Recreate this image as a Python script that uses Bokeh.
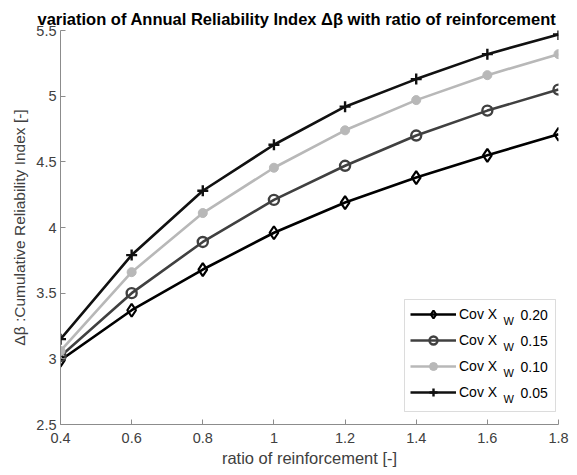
from bokeh.plotting import figure
from bokeh.models import Legend, LegendItem, Range1d, FixedTicker, Label, Title, BoxAnnotation
from bokeh.embed import file_html
from bokeh.resources import INLINE

ratio = [0.4, 0.6, 0.8, 1.0, 1.2, 1.4, 1.6, 1.8]
cov_020 = [2.99, 3.37, 3.68, 3.96, 4.19, 4.38, 4.55, 4.71]
cov_015 = [3.02, 3.50, 3.89, 4.21, 4.47, 4.70, 4.89, 5.05]
cov_010 = [3.06, 3.66, 4.11, 4.455, 4.74, 4.97, 5.16, 5.32]
cov_005 = [3.15, 3.79, 4.28, 4.63, 4.92, 5.13, 5.32, 5.47]
cov_values = ["0.20", "0.15", "0.10", "0.05"]
x_ticks = [0.4, 0.6, 0.8, 1.0, 1.2, 1.4, 1.6, 1.8]
y_ticks = [2.5, 3.0, 3.5, 4.0, 4.5, 5.0, 5.5]
title_text = "variation of Annual Reliability Index \u0394\u03b2 with ratio of reinforcement"
xlabel_text = "ratio of reinforcement [-]"
ylabel_text = "\u0394\u03b2 :Cumulative Reliability Index [-]"

FONT = "Liberation Sans"

p = figure(width=569, height=467, output_backend="svg", toolbar_location=None,
           x_range=Range1d(0.4, 1.8), y_range=Range1d(2.5, 5.5),
           min_border_left=60, min_border_right=11, min_border_top=30, min_border_bottom=42)
p.title.text = title_text
p.title.text_font = FONT
p.title.text_font_size = "16.5px"
p.title.text_font_style = "bold"
p.title.align = "left"
p.title.offset = -23
p.title.standoff = 5
p.title.text_color = "#000000"
p.outline_line_color = None
p.xgrid.visible = False
p.ygrid.visible = False

for ax in (p.xaxis[0], p.yaxis[0]):
    ax.axis_line_color = "#8c8c8c"
    ax.major_tick_line_color = "#8c8c8c"
    ax.major_tick_in = 5
    ax.major_tick_out = 0
    ax.minor_tick_line_color = None
    ax.major_label_text_font = FONT
    ax.major_label_text_font_size = "14.5px"
    ax.major_label_text_color = "#404040"

p.xaxis.ticker = FixedTicker(ticks=x_ticks)
p.yaxis.ticker = FixedTicker(ticks=y_ticks)
p.xaxis.major_label_overrides = {0.4: "0.4", 0.6: "0.6", 0.8: "0.8", 1.0: "1", 1.2: "1.2",
                                 1.4: "1.4", 1.6: "1.6", 1.8: "1.8"}
p.yaxis.major_label_overrides = {2.5: "2.5", 3.0: "3", 3.5: "3.5", 4.0: "4", 4.5: "4.5",
                                 5.0: "5", 5.5: "5.5"}
p.xaxis.major_label_standoff = 8
p.yaxis.major_label_standoff = 4

# axis titles as side-panel titles
p.add_layout(Title(text=xlabel_text, text_font=FONT, text_font_size="16.5px",
                   text_font_style="normal", text_color="#404040", align="center",
                   standoff=2), "below")
p.add_layout(Title(text=ylabel_text, text_font=FONT, text_font_size="15.5px",
                   text_font_style="normal", text_color="#404040", align="center",
                   offset=0, standoff=12), "left")

l1 = p.line(ratio, cov_020, line_color="#000000", line_width=2.6)
m1 = p.scatter(ratio, cov_020, marker="diamond", size=13, fill_color="white", fill_alpha=0,
               line_color="#000000", line_width=2.2)
l2 = p.line(ratio, cov_015, line_color="#404040", line_width=2.6)
m2 = p.scatter(ratio, cov_015, marker="circle", size=10, fill_color="white", fill_alpha=0,
               line_color="#404040", line_width=2.4)
l3 = p.line(ratio, cov_010, line_color="#b8b8b8", line_width=2.6)
m3 = p.scatter(ratio, cov_010, marker="circle", size=9, fill_color="#b8b8b8",
               line_color="#b8b8b8", line_width=1)
l4 = p.line(ratio, cov_005, line_color="#111111", line_width=2.6)
m4 = p.scatter(ratio, cov_005, marker="cross", size=11, line_color="#111111", line_width=2.4)

# legend frame (white box under the legend entries)
p.add_layout(BoxAnnotation(left=344, right=495, bottom=13, top=125,
                           left_units="screen", right_units="screen",
                           bottom_units="screen", top_units="screen",
                           fill_color="white", fill_alpha=1.0,
                           line_color="#8c8c8c", line_width=1, level="annotation"))

legend = Legend(items=[LegendItem(label="Cov X", renderers=[l1, m1]),
                       LegendItem(label="Cov X", renderers=[l2, m2]),
                       LegendItem(label="Cov X", renderers=[l3, m3]),
                       LegendItem(label="Cov X", renderers=[l4, m4])],
                location=(350, 22))
legend.label_text_font = FONT
legend.label_text_font_size = "14px"
legend.label_text_color = "#000000"
legend.border_line_color = None
legend.background_fill_alpha = 0
legend.glyph_width = 46
legend.glyph_height = 20
legend.label_height = 20
legend.spacing = 6
legend.padding = 0
legend.margin = 0
legend.label_standoff = 3
p.add_layout(legend, "center")

# subscript "W" and the value of each legend entry
for i, v in enumerate(cov_values):
    p.add_layout(Label(x=443, y=104 - 26 * i, x_units="screen", y_units="screen",
                       text="W", text_font=FONT, text_font_size="11px", text_color="#000000",
                       text_align="left", text_baseline="middle", level="overlay"))
    p.add_layout(Label(x=460, y=110 - 26 * i, x_units="screen", y_units="screen",
                       text=v, text_font=FONT, text_font_size="14px", text_color="#000000",
                       text_align="left", text_baseline="middle", level="overlay"))

open("out.html", "w").write(file_html(p, INLINE))
